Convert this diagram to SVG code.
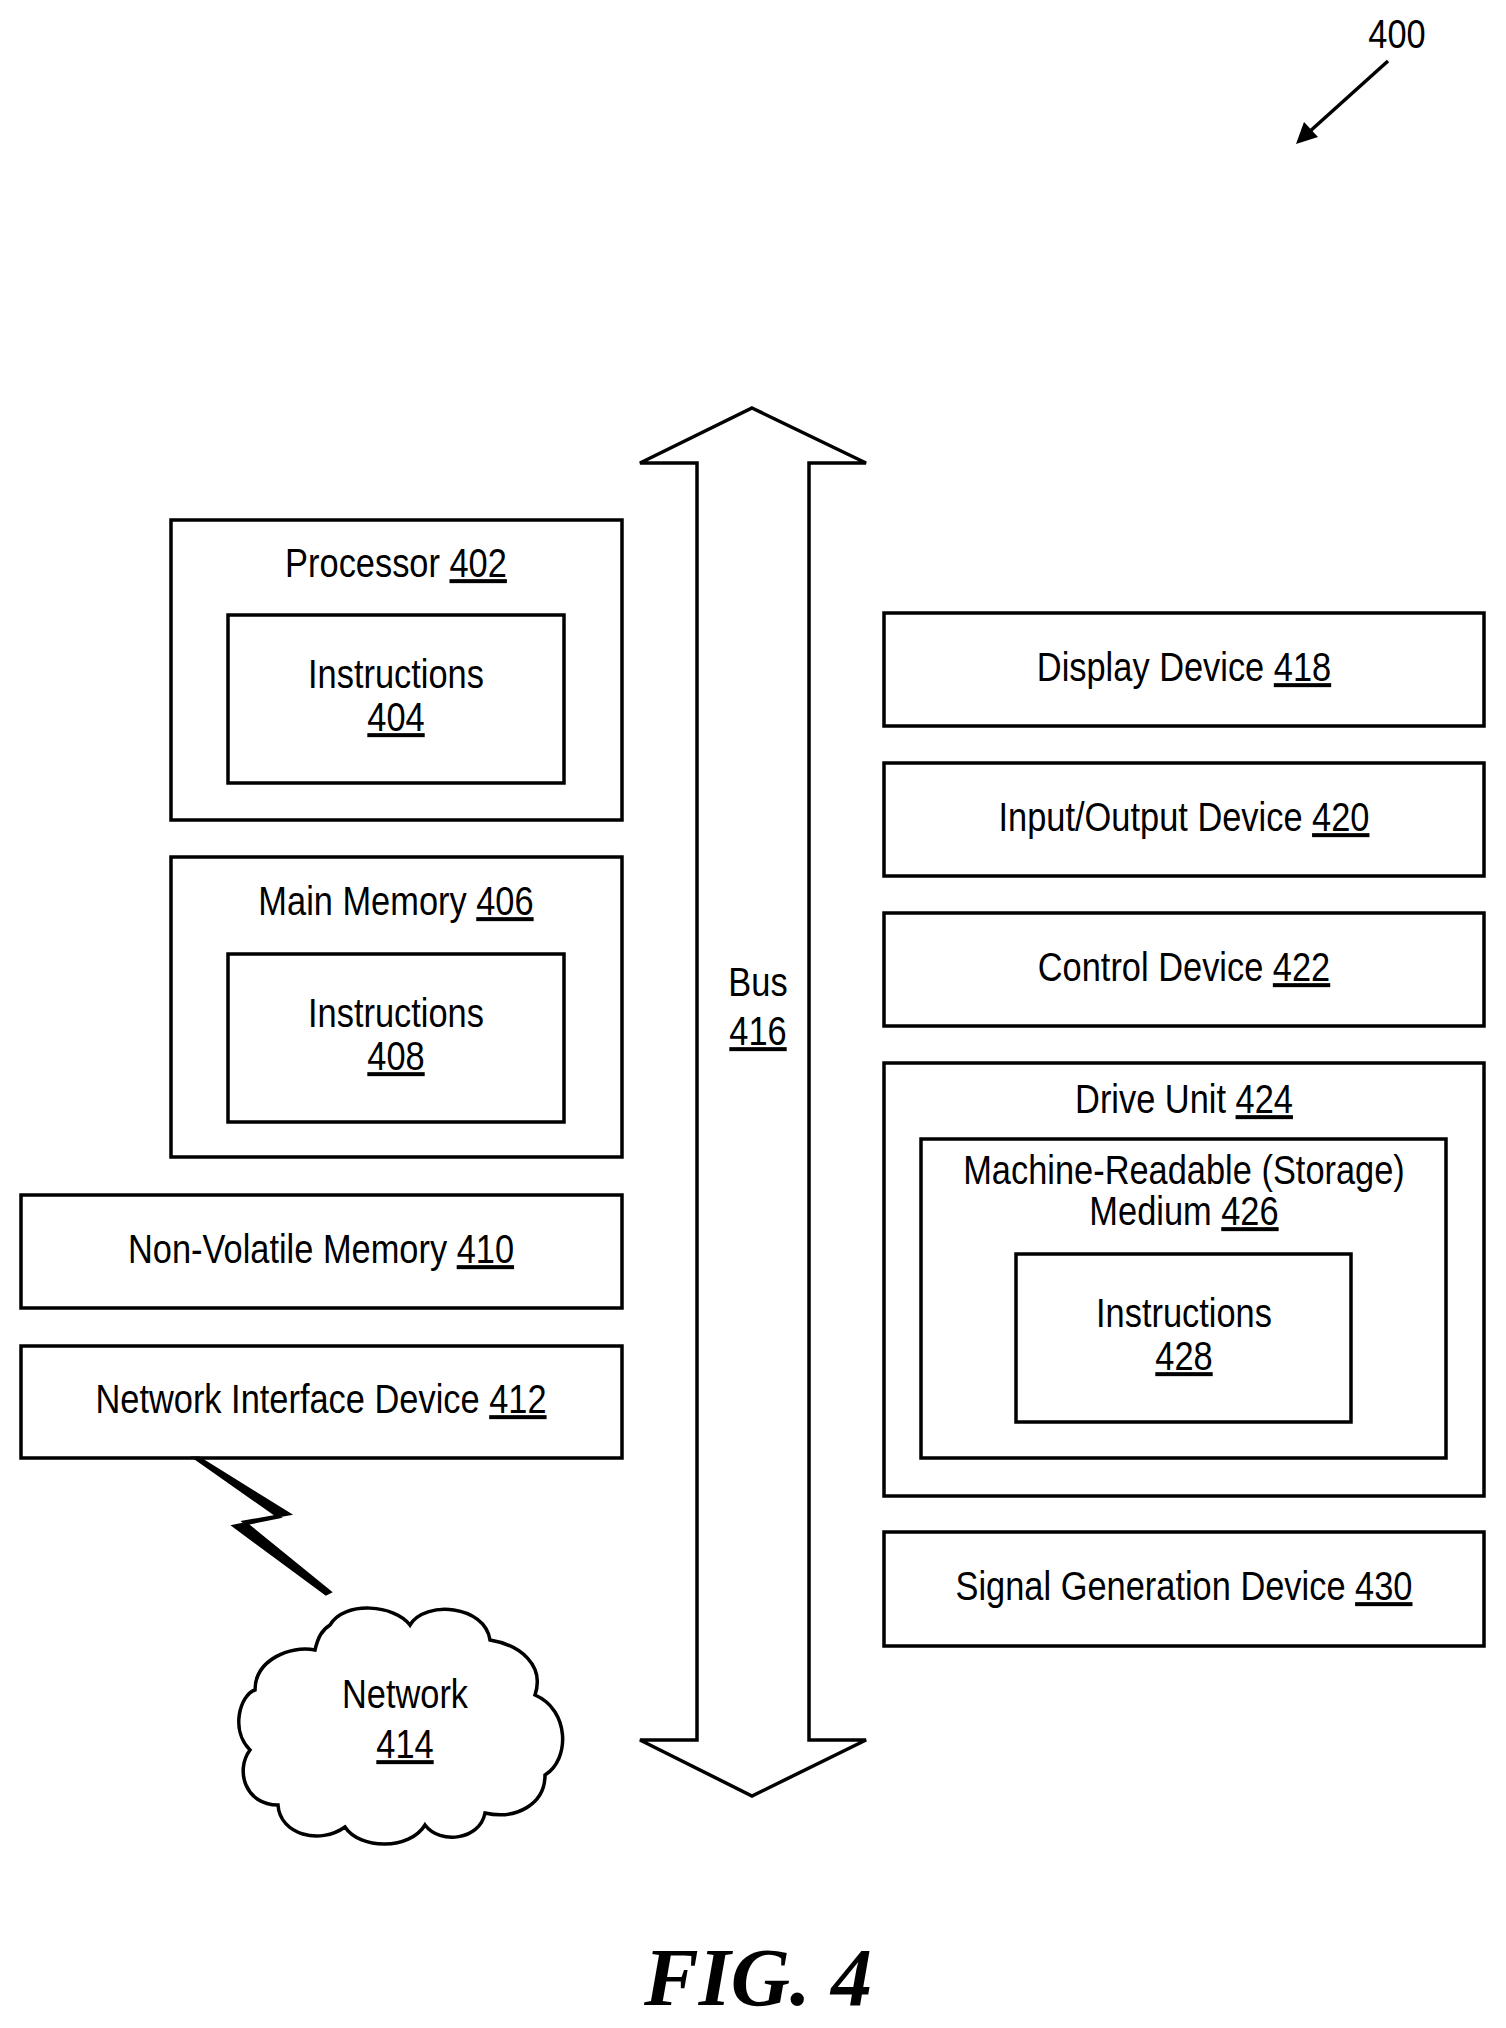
<svg xmlns="http://www.w3.org/2000/svg" width="1506" height="2028" viewBox="0 0 1506 2028">
<style>
.b{fill:none;stroke:#000;stroke-width:3.5}
text{font-family:"Liberation Sans",Arial,sans-serif;font-size:40px;text-anchor:middle;fill:#000}
.u{text-decoration:underline}
</style>
<rect width="1506" height="2028" fill="#fff"/>
<g id="ref400"><text transform="translate(1397,48) scale(0.86,1)">400</text>
<line class="b" x1="1388" y1="61" x2="1308" y2="133"/><path d="M1296,144 L1304,122 L1318,137z"/></g>
<g id="processor"><rect class="b" x="171" y="520" width="451" height="300"/><text transform="translate(396,577) scale(0.86,1)">Processor <tspan class="u">402</tspan></text>
<rect class="b" x="228" y="615" width="336" height="168"/><text transform="translate(396,688) scale(0.86,1)">Instructions</text><text transform="translate(396,731) scale(0.86,1)" class="u">404</text></g>
<g id="mainmem"><rect class="b" x="171" y="857" width="451" height="300"/><text transform="translate(396,915) scale(0.86,1)">Main Memory <tspan class="u">406</tspan></text>
<rect class="b" x="228" y="954" width="336" height="168"/><text transform="translate(396,1027) scale(0.86,1)">Instructions</text><text transform="translate(396,1070) scale(0.86,1)" class="u">408</text></g>
<g id="nvm"><rect class="b" x="21" y="1195" width="601" height="113"/><text transform="translate(321,1263) scale(0.86,1)">Non-Volatile Memory <tspan class="u">410</tspan></text></g>
<g id="nid"><rect class="b" x="21" y="1346" width="601" height="112"/><text transform="translate(321,1413) scale(0.86,1)">Network Interface Device <tspan class="u">412</tspan></text></g>
<g id="network"><path class="b" d="M330,1625 C345,1600 395,1605 410,1625 C425,1600 485,1605 490,1640 C520,1645 545,1665 535,1695 C570,1710 570,1760 545,1775 C545,1805 515,1820 485,1813 C480,1840 440,1845 425,1825 C410,1850 360,1850 345,1827 C320,1845 280,1835 278,1805 C245,1805 235,1770 250,1750 C230,1730 240,1695 255,1690 C255,1660 290,1645 315,1650 C318,1637 322,1630 330,1625z"/>
<text transform="translate(405,1708) scale(0.86,1)">Network</text><text transform="translate(405,1758) scale(0.86,1)" class="u">414</text></g>
<g id="connectors"><path d="M199,1458 L289,1514 L244,1522 L330,1592 L326,1594 L234,1526 L279,1517 L195,1458z" stroke="#000" stroke-width="3" fill="#000"/></g>
<g id="bus"><path class="b" d="M752,408 L866,463 L809,463 L809,1740 L866,1740 L752,1796 L640,1740 L697,1740 L697,463 L640,463z"/>
<text transform="translate(758,996) scale(0.86,1)">Bus</text><text transform="translate(758,1045) scale(0.86,1)" class="u">416</text></g>
<g id="display"><rect class="b" x="884" y="613" width="600" height="113"/><text transform="translate(1184,681) scale(0.86,1)">Display Device <tspan class="u">418</tspan></text></g>
<g id="io"><rect class="b" x="884" y="763" width="600" height="113"/><text transform="translate(1184,831) scale(0.86,1)">Input/Output Device <tspan class="u">420</tspan></text></g>
<g id="control"><rect class="b" x="884" y="913" width="600" height="113"/><text transform="translate(1184,981) scale(0.86,1)">Control Device <tspan class="u">422</tspan></text></g>
<g id="drive"><rect class="b" x="884" y="1063" width="600" height="433"/><text transform="translate(1184,1113) scale(0.86,1)">Drive Unit <tspan class="u">424</tspan></text>
<rect class="b" x="921" y="1139" width="525" height="319"/><text transform="translate(1184,1184) scale(0.86,1)">Machine-Readable (Storage)</text><text transform="translate(1184,1225) scale(0.86,1)">Medium <tspan class="u">426</tspan></text>
<rect class="b" x="1016" y="1254" width="335" height="168"/><text transform="translate(1184,1327) scale(0.86,1)">Instructions</text><text transform="translate(1184,1370) scale(0.86,1)" class="u">428</text></g>
<g id="signal"><rect class="b" x="884" y="1532" width="600" height="114"/><text transform="translate(1184,1600) scale(0.86,1)">Signal Generation Device <tspan class="u">430</tspan></text></g>
<text x="758" y="2005" style="font-family:'Liberation Serif',serif;font-weight:bold;font-style:italic;font-size:82px">FIG. 4</text>
</svg>
